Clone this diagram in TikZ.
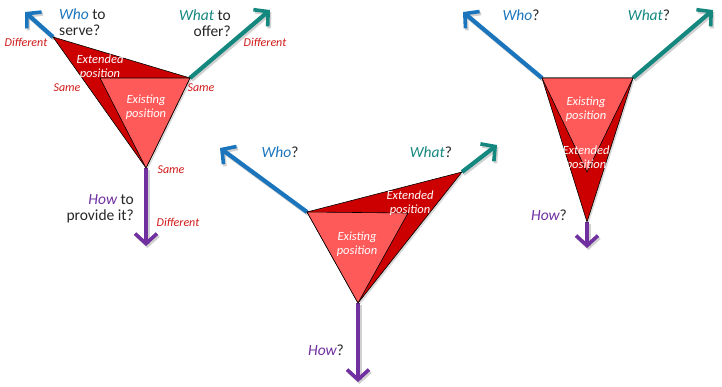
\documentclass[tikz,border=0pt]{standalone}
\usepackage{fontspec}
\setmainfont{Carlito}
\usetikzlibrary{arrows.meta}
\definecolor{cwho}{HTML}{1B75BC}
\definecolor{cwhat}{HTML}{14877F}
\definecolor{chow}{HTML}{7030A0}
\definecolor{cexist}{HTML}{FF5A5A}
\definecolor{cext}{HTML}{CC0000}
\definecolor{clab}{HTML}{D01818}
\definecolor{ctxt}{HTML}{262626}
\begin{document}
\begin{tikzpicture}[x=1pt,y=-1pt,
  arr/.style={line width=4.2pt,-{Straight Barb[length=10pt,width=22pt,line width=3.6pt]}},
  arrsh/.style={line width=4.2pt,black,opacity=.18,-{Straight Barb[length=10pt,width=22pt,line width=3.6pt]}},
  tri/.style={draw=black,line width=.6pt,line join=miter},
  q/.style={inner sep=0pt,text=ctxt,font=\fontsize{15.5}{16}\selectfont},
  sm/.style={inner sep=0pt,text=clab,font=\fontsize{12}{12}\selectfont\itshape},
  wt/.style={inner sep=0pt,text=white,align=center,font=\fontsize{12.5}{13.5}\selectfont\itshape}]
\useasboundingbox (0,0) rectangle (722,386);
% ---------- diagram 1 ----------
\coordinate (a1) at (53,37);
\coordinate (b1) at (190,78);
\coordinate (c1) at (146,168);
\coordinate (d1) at (100,78);
\coordinate (wt1) at (25,12);
\coordinate (wh1) at (270,10);
\coordinate (ht1) at (146,246);
\draw[arrsh,transform canvas={shift={(1.5pt,-2pt)}}] (a1) -- (wt1);
\draw[arrsh,transform canvas={shift={(1.5pt,-2pt)}}] (b1) -- (wh1);
\draw[arrsh,transform canvas={shift={(1.5pt,-2pt)}}] (c1) -- (ht1);
\draw[arr,cwho] (a1) -- (wt1);
\draw[arr,cwhat] (b1) -- (wh1);
\draw[arr,chow] (c1) -- (ht1);
\fill[black,opacity=.15,transform canvas={shift={(1.5pt,-2pt)}}] (a1) -- (b1) -- (c1) -- cycle;
\fill[tri,fill=cext] (a1) -- (b1) -- (c1) -- cycle;
\fill[tri,fill=cexist] (d1) -- (b1) -- (c1) -- cycle;
\node[wt] (ext1) at (100,67) {Extended\\position};
\node[wt] (exi1) at (146,107) {Existing\\position};
\node[q,anchor=west,align=left] (who1) at (59,22) {\textcolor{cwho}{\itshape Who} to\\serve?};
\node[q,anchor=east,align=right] (what1) at (231,23) {\textcolor{cwhat}{\itshape What} to\\offer?};
\node[q,anchor=east,align=right] (how1) at (134,209) {\textcolor{chow}{\itshape How} to\\provide it?};
\node[sm] (dw1) at (26,42) {Different};
\node[sm] (dh1) at (265,42) {Different};
\node[sm] (dv1) at (178,222) {Different};
\node[sm] (sw1) at (67,88) {Same};
\node[sm] (sh1) at (201,88) {Same};
\node[sm] (sv1) at (171,170) {Same};
% ---------- diagram 2 ----------
\coordinate (a2) at (307,212);
\coordinate (b2) at (408,213);
\coordinate (c2) at (358,303);
\coordinate (e2) at (462,172);
\coordinate (wt2) at (220,148);
\coordinate (wh2) at (497,145);
\coordinate (ht2) at (358,382);
\draw[arrsh,transform canvas={shift={(1.5pt,-2pt)}}] (a2) -- (wt2);
\draw[arrsh,transform canvas={shift={(1.5pt,-2pt)}}] (e2) -- (wh2);
\draw[arrsh,transform canvas={shift={(1.5pt,-2pt)}}] (c2) -- (ht2);
\draw[arr,cwho] (a2) -- (wt2);
\draw[arr,cwhat] (e2) -- (wh2);
\draw[arr,chow] (c2) -- (ht2);
\fill[black,opacity=.15,transform canvas={shift={(1.5pt,-2pt)}}] (a2) -- (e2) -- (c2) -- cycle;
\fill[tri,fill=cext] (a2) -- (e2) -- (c2) -- cycle;
\fill[tri,fill=cexist] (a2) -- (b2) -- (c2) -- cycle;
\node[wt] (ext2) at (410,203) {Extended\\position};
\node[wt] (exi2) at (357,244) {Existing\\position};
\node[q] (who2) at (280,152) {\textcolor{cwho}{\itshape Who}?};
\node[q] (what2) at (431,152) {\textcolor{cwhat}{\itshape What}?};
\node[q] (how2) at (326,350) {\textcolor{chow}{\itshape How}?};
% ---------- diagram 3 ----------
\coordinate (a3) at (542,78);
\coordinate (b3) at (633,78);
\coordinate (c3) at (587,172);
\coordinate (e3) at (587,222);
\coordinate (wt3) at (463,12);
\coordinate (wh3) at (713,10);
\coordinate (ht3) at (587,248);
\draw[arrsh,transform canvas={shift={(1.5pt,-2pt)}}] (a3) -- (wt3);
\draw[arrsh,transform canvas={shift={(1.5pt,-2pt)}}] (b3) -- (wh3);
\draw[arrsh,transform canvas={shift={(1.5pt,-2pt)}}] (e3) -- (ht3);
\draw[arr,cwho] (a3) -- (wt3);
\draw[arr,cwhat] (b3) -- (wh3);
\draw[arr,chow] (e3) -- (ht3);
\fill[black,opacity=.15,transform canvas={shift={(1.5pt,-2pt)}}] (a3) -- (b3) -- (e3) -- cycle;
\fill[tri,fill=cext] (a3) -- (b3) -- (e3) -- cycle;
\fill[tri,fill=cexist] (a3) -- (b3) -- (c3) -- cycle;
\node[wt] (exi3) at (586,109) {Existing\\position};
\node[wt] (ext3) at (586,158) {Extended\\position};
\node[q] (who3) at (521,15) {\textcolor{cwho}{\itshape Who}?};
\node[q] (what3) at (649,15) {\textcolor{cwhat}{\itshape What}?};
\node[q] (how3) at (549,215) {\textcolor{chow}{\itshape How}?};
\end{tikzpicture}
\end{document}
